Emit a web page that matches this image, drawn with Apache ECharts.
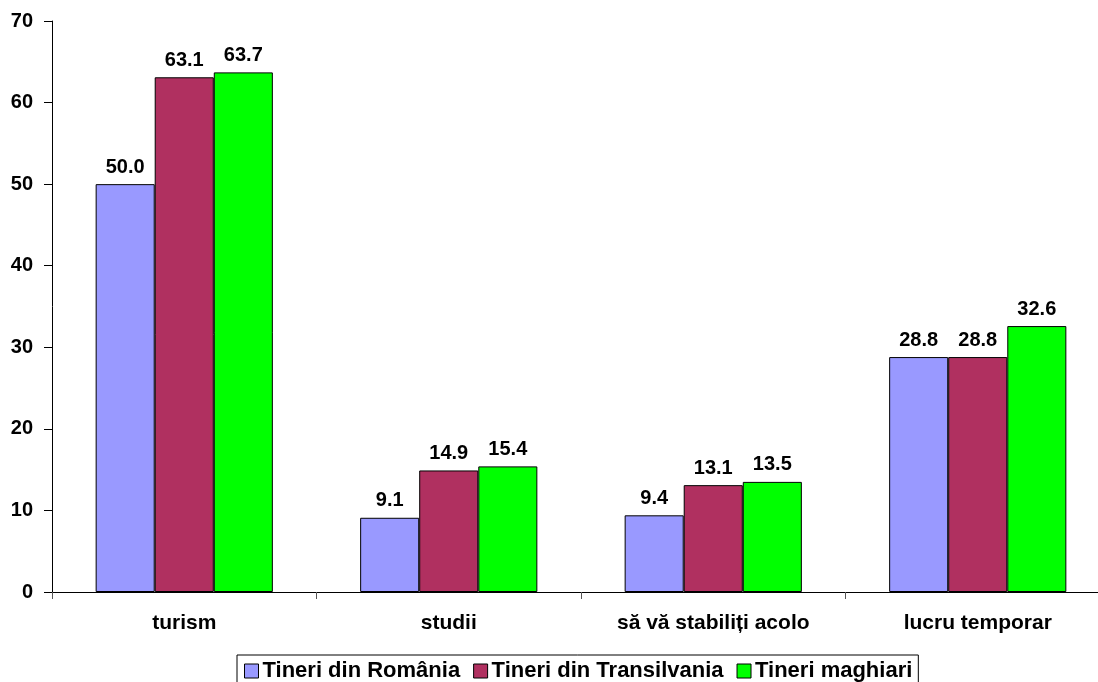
<!DOCTYPE html>
<html><head><meta charset="utf-8">
<script src="https://cdn.jsdelivr.net/npm/echarts@6/dist/echarts.min.js"></script>
<style>html,body{margin:0;padding:0;background:#fff;overflow:hidden}#c{width:1110px;height:682px}</style>
</head><body><div id="c"></div>
<script>
const categories = ["turism", "studii", "să vă stabiliți acolo", "lucru temporar"];
const seriesNames = ["Tineri din România", "Tineri din Transilvania", "Tineri maghiari"];
const romania = [50.0, 9.1, 9.4, 28.8];
const transilvania = [63.1, 14.9, 13.1, 28.8];
const maghiari = [63.7, 15.4, 13.5, 32.6];
const colors = ["#9999FF", "#B03060", "#00FF00"];
const font = "Arial, 'Liberation Sans', sans-serif";

const chart = echarts.init(document.getElementById('c'));
const mk = (name, data, color) => ({
  name, type: 'bar', data,
  barGap: '0%', barCategoryGap: '33%',
  itemStyle: { color, borderColor: '#000', borderWidth: 1 },
  label: { show: true, position: 'top', distance: 7, formatter: p => p.value.toFixed(1),
    fontFamily: font, fontWeight: 'bold', fontSize: 20, color: '#000' }
});
chart.setOption({
  animation: false,
  grid: { left: 52, top: 21, right: 0, height: 571 },
  xAxis: { type: 'category', data: categories,
    axisLine: { lineStyle: { color: '#000' } },
    axisTick: { show: true, interval: 0, length: 7, lineStyle: { color: '#555' } },
    axisLabel: { fontFamily: font, fontWeight: 'bold', fontSize: 21, color: '#000', margin: 21 } },
  yAxis: { type: 'value', min: 0, max: 70, interval: 10,
    splitLine: { show: false },
    axisLine: { show: true, lineStyle: { color: '#000' } },
    axisTick: { show: true, length: 8, lineStyle: { color: '#000' } },
    axisLabel: { fontFamily: font, fontWeight: 'bold', fontSize: 20, color: '#000', margin: 19 } },
  legend: { top: 655, left: 237, data: seriesNames,
    itemWidth: 14, itemHeight: 14, itemGap: 13,
    borderColor: '#000', borderWidth: 1, padding: [5, 6, 10, 7],
    icon: 'rect',
    itemStyle: { borderColor: '#000', borderWidth: 1 },
    textStyle: { fontFamily: font, fontWeight: 'bold', fontSize: 22, color: '#000', padding: [0, 0, 0, -1] } },
  series: [mk(seriesNames[0], romania, colors[0]), mk(seriesNames[1], transilvania, colors[1]), mk(seriesNames[2], maghiari, colors[2])]
});
</script></body></html>
